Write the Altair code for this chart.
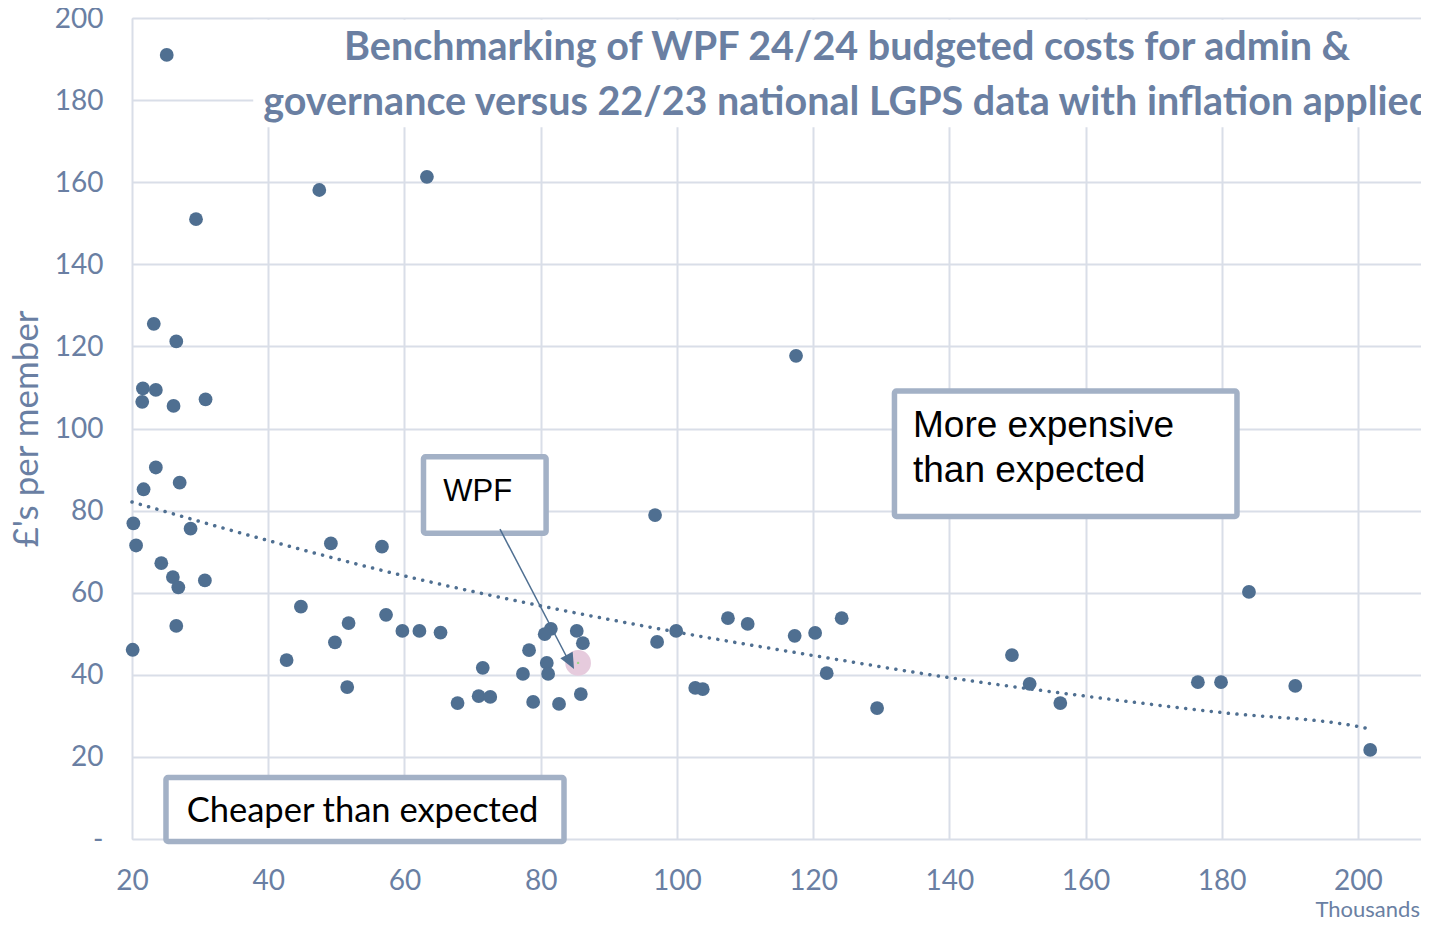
import altair as alt
import pandas as pd

# ---- data ----
members_k = [25.1, 29.4, 47.5, 63.3, 23.2, 26.5, 21.6, 23.5, 21.5, 26.1, 30.8,
             23.5, 21.7, 27.0, 20.2, 20.6, 28.6, 24.3, 26.0, 26.8, 30.7, 26.5, 20.1,
             42.7, 44.8, 49.2, 49.8, 51.8, 51.6, 56.7, 57.3, 59.7, 62.2, 65.3,
             67.8, 71.5, 70.9, 72.6, 78.3, 77.4, 78.9, 81.5, 80.6, 85.3, 86.2, 80.9,
             81.1, 82.7, 85.9, 96.8, 97.1, 99.9, 102.7, 103.8, 107.5, 110.4, 117.3,
             120.3, 124.2, 122.0, 129.4, 117.5, 149.2, 151.8, 156.3, 176.5, 179.9,
             184.0, 190.8, 201.8]
cost_per_member = [191.0, 151.0, 158.1, 161.3, 125.5, 121.2, 109.8, 109.4, 106.5, 105.5, 107.1,
                   90.5, 85.2, 86.8, 76.9, 71.5, 75.6, 67.2, 63.8, 61.3, 63.0, 51.9, 46.1,
                   43.6, 56.6, 72.0, 47.9, 52.6, 37.0, 71.2, 54.6, 50.7, 50.7, 50.3,
                   33.1, 41.7, 34.8, 34.6, 46.0, 40.2, 33.4, 51.2, 49.9, 50.7, 47.7, 42.9,
                   40.2, 32.9, 35.3, 78.9, 48.0, 50.7, 36.8, 36.5, 53.8, 52.4, 49.5,
                   50.2, 53.8, 40.4, 31.9, 117.7, 44.8, 37.8, 33.1, 38.2, 38.2,
                   60.2, 37.3, 21.7]
wpf_members_k = [85.5]
wpf_cost = [42.9]
trend_x = [20, 40, 60, 80, 100, 120, 140, 160, 180, 200, 201.5]
trend_y = [82.1, 72.7, 64.1, 56.8, 50.4, 44.7, 39.3, 34.8, 30.8, 27.4, 26.9]
x_ticks = [20, 40, 60, 80, 100, 120, 140, 160, 180, 200]
y_ticks = [0, 20, 40, 60, 80, 100, 120, 140, 160, 180, 200]
title_lines = ["Benchmarking of WPF 24/24 budgeted costs for admin &",
               "governance versus 22/23 national LGPS data with inflation applied"]

pts = pd.DataFrame({"x": members_k, "y": cost_per_member})
wpf = pd.DataFrame({"x": wpf_members_k, "y": wpf_cost})
trend = pd.DataFrame({"x": trend_x, "y": trend_y})

# ---- styles ----
DOT = "#4F6F91"
LABEL = "#6A7FA3"
GRID = "#D9DEE8"
BOX = "#A3B1C6"
FONT = "Lato"

xs = alt.Scale(domain=[20, 209.26], nice=False, zero=False)
ys = alt.Scale(domain=[0, 200], nice=False, zero=False)

x_axis = alt.Axis(values=x_ticks, title=None, grid=True, gridColor=GRID, gridWidth=2,
                  ticks=False, domain=False, labelFont=FONT, labelFontSize=28,
                  labelColor=LABEL, labelPadding=28, labelFlush=False)
y_axis = alt.Axis(values=y_ticks, title="£'s per member", grid=True, gridColor=GRID,
                  gridWidth=2, ticks=False, domain=False, labelFont=FONT,
                  labelFontSize=28, labelColor=LABEL, labelPadding=29, labelFlush=False,
                  labelOffset=1,
                  labelExpr="datum.value == 0 ? '-' : datum.label",
                  titleFont=FONT, titleFontSize=35, titleFontWeight="normal",
                  titleColor=LABEL, titlePadding=10)


def X(field="x"):
    return alt.X(f"{field}:Q", scale=xs, axis=x_axis)


def Y(field="y"):
    return alt.Y(f"{field}:Q", scale=ys, axis=y_axis)


points = alt.Chart(pts).mark_circle(size=190, color=DOT, opacity=1).encode(
    x=X(), y=Y())

trend_line = alt.Chart(trend).mark_line(
    color=DOT, strokeWidth=3.5, strokeDash=[0.1, 8.5], strokeCap="round",
    interpolate="monotone").encode(x=X(), y=Y())

wpf_circle = alt.Chart(wpf).mark_circle(size=660, color="#E6CBDD", opacity=1).encode(
    x=X(), y=Y())
wpf_center = alt.Chart(wpf).mark_circle(size=6, color="#9BD88A", opacity=1).encode(
    x=X(), y=Y())

# ---- annotation layer definitions (data units) ----
boxes = pd.DataFrame({
    "x1": [62.8, 131.95, 24.99],
    "x2": [80.8, 182.24, 83.43],
    "y1": [74.5, 78.56, -0.61],
    "y2": [93.1, 109.13, 14.98],
})
box_marks = alt.Chart(boxes).mark_rect(
    fill="white", stroke=BOX, strokeWidth=5.5, cornerRadius=2).encode(
    x=X("x1"), x2="x2", y=Y("y1"), y2="y2")

title_box = alt.Chart(pd.DataFrame({"x1": [37.8], "x2": [212], "y1": [173.4], "y2": [199.6]})
                      ).mark_rect(fill="white").encode(x=X("x1"), x2="x2", y=Y("y1"), y2="y2")

title_df = pd.DataFrame({"x": [125.0, 125.0], "y": [189.8, 176.4], "t": title_lines})
title_text = alt.Chart(title_df).mark_text(
    font=FONT, fontSize=39.5, fontWeight="bold", color="#6A7FA2", align="center",
    baseline="alphabetic").encode(x=X(), y=Y(), text="t:N")

more_df = pd.DataFrame({"x": [134.67, 134.67], "y": [97.93, 87.04],
                        "t": ["More expensive", "than expected"]})
more_text = alt.Chart(more_df).mark_text(
    font="Liberation Sans", fontSize=37, color="black", align="left",
    baseline="alphabetic").encode(x=X(), y=Y(), text="t:N")

cheap_text = alt.Chart(pd.DataFrame({"x": [28.03], "y": [4.07], "t": ["Cheaper than expected"]})
                       ).mark_text(font=FONT, fontSize=34.5, color="black", align="left",
                                   baseline="alphabetic").encode(x=X(), y=Y(), text="t:N")

wpf_text = alt.Chart(pd.DataFrame({"x": [65.71], "y": [82.34], "t": ["WPF"]})
                     ).mark_text(font="Liberation Sans", fontSize=31, color="black",
                                 align="left", baseline="alphabetic").encode(
    x=X(), y=Y(), text="t:N")

arrow_line = alt.Chart(pd.DataFrame({"x1": [74.03], "y1": [75.5], "x2": [84.5], "y2": [42.2]})
                       ).mark_rule(color=DOT, strokeWidth=1.5).encode(
    x=X("x1"), y=Y("y1"), x2="x2", y2="y2")
arrow_head = alt.Chart(pd.DataFrame({"x": [84.9], "y": [41.4]})).mark_point(
    shape="M0,0L0.875,2L-0.875,2Z", size=256, angle=152, filled=True, fill=DOT,
    opacity=1).encode(x=X(), y=Y())

thousands = alt.Chart(pd.DataFrame({"x": [209.1], "y": [-18.9], "t": ["Thousands"]})
                      ).mark_text(font=FONT, fontSize=22, color=LABEL, align="right",
                                  baseline="alphabetic").encode(x=X(), y=Y(), text="t:N")

chart = alt.layer(
    points, title_box, trend_line, wpf_circle, wpf_center, box_marks,
    title_text, more_text, cheap_text, wpf_text, arrow_line, arrow_head, thousands
).properties(
    width=1289, height=821,
    autosize=alt.AutoSizeParams(type="none"),
    padding={"left": 124, "top": 10, "right": 0, "bottom": 80},
).configure_view(stroke=None).configure(background="white")

chart.save("out.html", embed_options={"renderer": "svg", "actions": False})
